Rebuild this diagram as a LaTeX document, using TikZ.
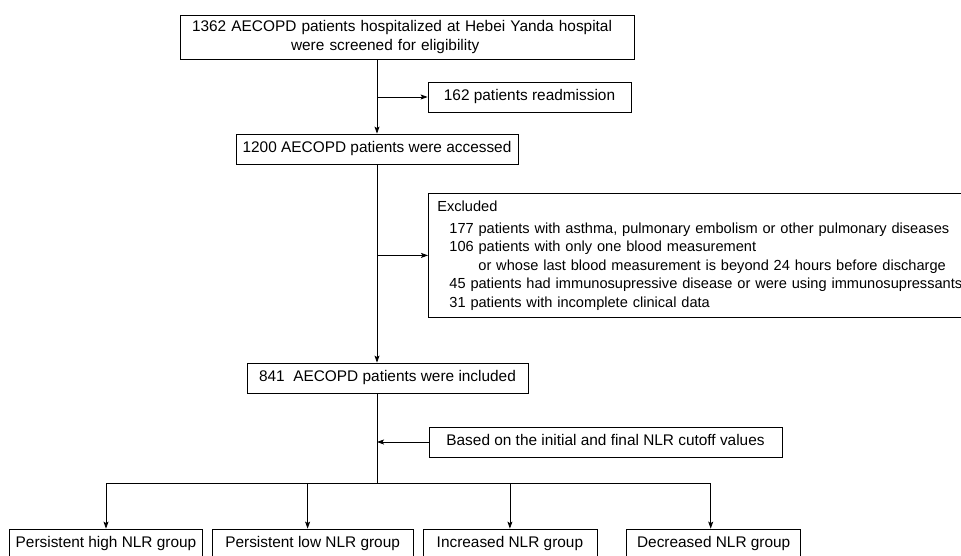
\documentclass[tikz,border=0pt]{standalone}
\usepackage{fontspec}
\setmainfont{Liberation Sans}
\usetikzlibrary{arrows.meta, positioning, shapes}

\begin{document}
\begin{tikzpicture}[x=1pt, y=-1pt,
  box/.style    = {draw, line width=0.8pt, inner xsep=6pt, inner ysep=0pt,
                   font=\fontsize{15.4}{18.3}\selectfont},
  onerow/.style = {box, minimum height=30pt, text height=11pt, text depth=3.5pt},
  link/.style   = {draw, line width=0.8pt, -{Stealth[length=7pt, width=5pt, inset=1.5pt]}}]

\useasboundingbox (0,0) rectangle (961,555);

\node [box   , align=left, inner xsep=12pt, text width=430pt, minimum height=44pt] (screen) at (407,37)   {1362 AECOPD patients hospitalized at Hebei Yanda hospital\\\hspace*{99pt}were screened for eligibility};
\node [onerow, minimum width=203pt                                   ] (readm)  at (529.5,97) {162 patients readmission};
\node [onerow, minimum width=282pt                                   ] (access) at (377,149)  {1200 AECOPD patients were accessed};
\node [box   , align=left, inner xsep=9pt, text width=540pt, minimum height=124pt, anchor=north west,
       font=\fontsize{14.6}{18.5}\selectfont                         ] (excl)   at (428,193)  {Excluded\\[3.5pt]
  \hspace*{12pt}177 patients with asthma, pulmonary embolism or other pulmonary diseases\\
  \hspace*{12pt}106 patients with only one blood measurement\\
  \hspace*{41pt}or whose last blood measurement is beyond 24 hours before discharge\\
  \hspace*{12pt}45 patients had immunosupressive disease or were using immunosupressants\\
  \hspace*{12pt}31 patients with incomplete clinical data};
\node [onerow, minimum width=281pt                                   ] (incl)   at (387.5,378) {841\ \ AECOPD patients were included};
\node [onerow, minimum width=353pt                                   ] (based)  at (605.5,442) {Based on the initial and final NLR cutoff values};

\coordinate (split) at (377,483);

% groups
\node [onerow, minimum width=188pt                    ] (g1) at (106,544) {Persistent high NLR group};
\node [onerow, minimum width=201pt, right=9pt  of g1  ] (g2)              {Persistent low NLR group};
\node [onerow, minimum width=174pt, right=9pt  of g2  ] (g3)              {Increased NLR group};
\node [onerow, minimum width=174pt, right=29pt of g3  ] (g4)              {Decreased NLR group};

\path [link] (access |- screen.south) -- (access.north);
\path [link] (access |- readm.west)   -- (readm.west);
\path [link] (access.south)           -- (access |- incl.north);
\path [link] (access |- excl.west)    -- (excl.west);
\path [draw, line width=0.8pt] (access |- incl.south) -- (split);
\path [link] (based.west)             -- (split |- based.west);

\path [draw, line width=0.8pt] (g1 |- split) -- ([xshift=-3pt]g4.north |- split);
\path [link] (g1 |- split)                     -- (g1.north);
\path [link] ([xshift=-5pt]g2.north |- split)  -- ([xshift=-5pt]g2.north);
\path [link] (g3 |- split)                     -- (g3.north);
\path [link] ([xshift=-3pt]g4.north |- split)  -- ([xshift=-3pt]g4.north);

\end{tikzpicture}
\end{document}
